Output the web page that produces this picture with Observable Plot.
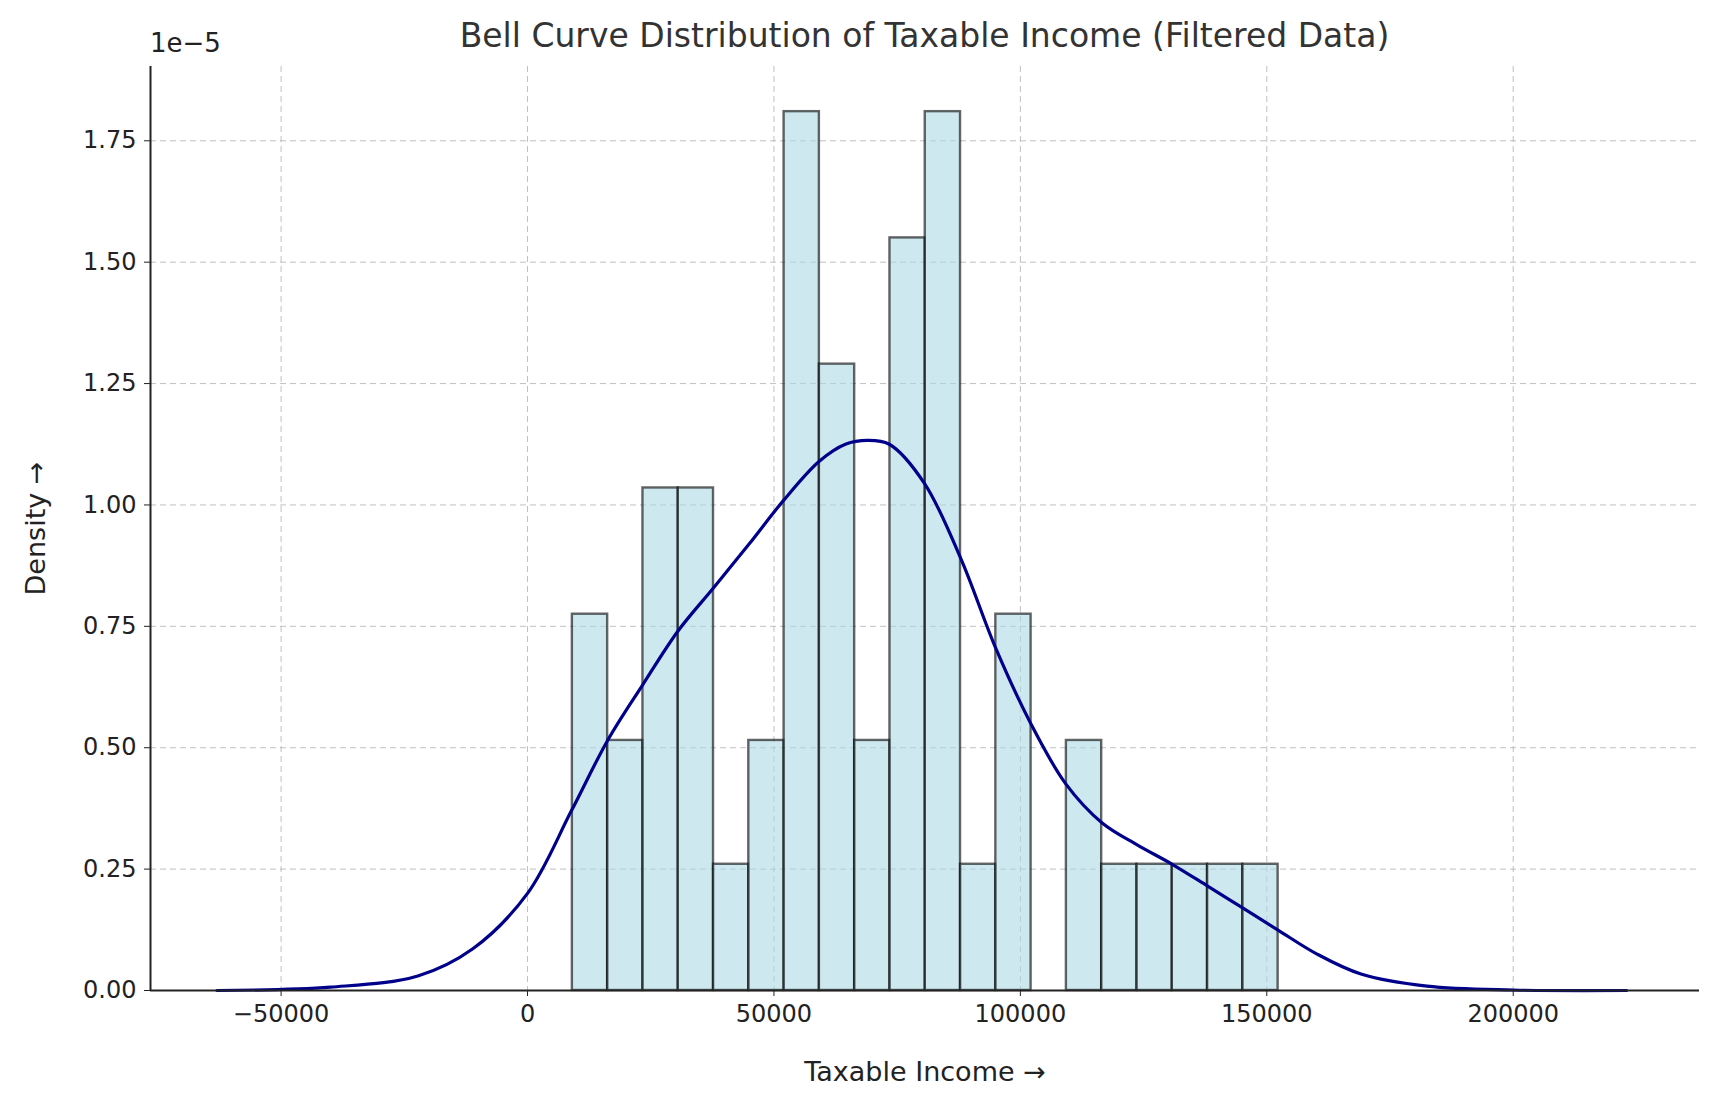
<!DOCTYPE html>
<html><head><meta charset="utf-8">
<script src="https://cdn.jsdelivr.net/npm/d3@7"></script>
<script src="https://cdn.jsdelivr.net/npm/@observablehq/plot@0.6"></script>
<style>
body{margin:0;background:#fff;font-family:"DejaVu Sans",sans-serif;}
#wrap{position:relative;width:1718px;height:1097px;}
#title{position:absolute;top:16px;left:150px;width:1549px;text-align:center;font-size:33px;color:#333;}
#exp{position:absolute;top:28px;left:150px;font-size:26px;color:#222;}
</style></head><body>
<div id="wrap"><div id="title">Bell Curve Distribution of Taxable Income (Filtered Data)</div><div id="exp">1e−5</div></div>
<script>
const binStart = 9100, binWidth = 7160;
const binDensity = [0.775,0.515,1.035,1.035,0.26,0.515,1.81,1.29,0.515,1.55,1.81,0.26,0.775,0,0.515,0.26,0.26,0.26,0.26,0.26];
const kdeX = [-63000,-40000,-22250,-11100,0,8900,16250,23400,30500,37800,45000,52000,59200,64500,69000,73400,80500,87900,95000,102100,109250,116600,123700,130800,138000,145100,152200,160200,169100,182500,200000,223000];
const kdeY = [0,0.007,0.03,0.086,0.2,0.37,0.515,0.63,0.74,0.83,0.92,1.01,1.09,1.125,1.133,1.125,1.045,0.89,0.705,0.55,0.425,0.345,0.30,0.26,0.215,0.17,0.125,0.075,0.034,0.009,0.001,0];
const xTicks = [-50000,0,50000,100000,150000,200000];
const yTicks = [0,0.25,0.5,0.75,1,1.25,1.5,1.75];

const bins = binDensity.map((d,i)=>({x1:binStart+i*binWidth,x2:binStart+(i+1)*binWidth,y:d})).filter(b=>b.y>0);
const kde = kdeX.map((x,i)=>({x,y:kdeY[i]}));

const plot = Plot.plot({
  width:1718, height:1097,
  marginLeft:150, marginRight:19, marginTop:66, marginBottom:107,
  style:{fontFamily:"DejaVu Sans", fontSize:"24px", color:"#222", background:"#fff"},
  x:{domain:[-76500,237800], ticks:xTicks, tickFormat:d=>d<0?"−"+Math.abs(d):String(d), label:"Taxable Income", labelAnchor:"center", labelOffset:90, tickSize:6, tickPadding:8},
  y:{domain:[0,1.903], ticks:yTicks, tickFormat:d3.format(".2f"), label:"Density", labelAnchor:"center", labelOffset:125, tickSize:6, tickPadding:8},
  marks:[
    Plot.gridX(xTicks,{stroke:"#b0b0b0", strokeOpacity:0.8, strokeDasharray:"6,4"}),
    Plot.gridY(yTicks,{stroke:"#b0b0b0", strokeOpacity:0.8, strokeDasharray:"6,4"}),
    Plot.rectY(bins,{x1:"x1",x2:"x2",y:"y",fill:"#add8e6",fillOpacity:0.6,stroke:"#000",strokeOpacity:0.6,strokeWidth:2.4,inset:0}),
    Plot.line(kde,{x:"x",y:"y",stroke:"#00008b",strokeWidth:3.2,curve:"catmull-rom"}),
    Plot.ruleY([0],{stroke:"#222",strokeWidth:2}),
    Plot.ruleX([-76500],{stroke:"#222",strokeWidth:2})
  ]
});
plot.style.position="absolute"; plot.style.top="0"; plot.style.left="0";
document.getElementById("wrap").prepend(plot);
plot.querySelectorAll('[aria-label="y-axis label"] text, [aria-label="x-axis label"] text').forEach(t=>t.style.fontSize="27px");
</script></body></html>
